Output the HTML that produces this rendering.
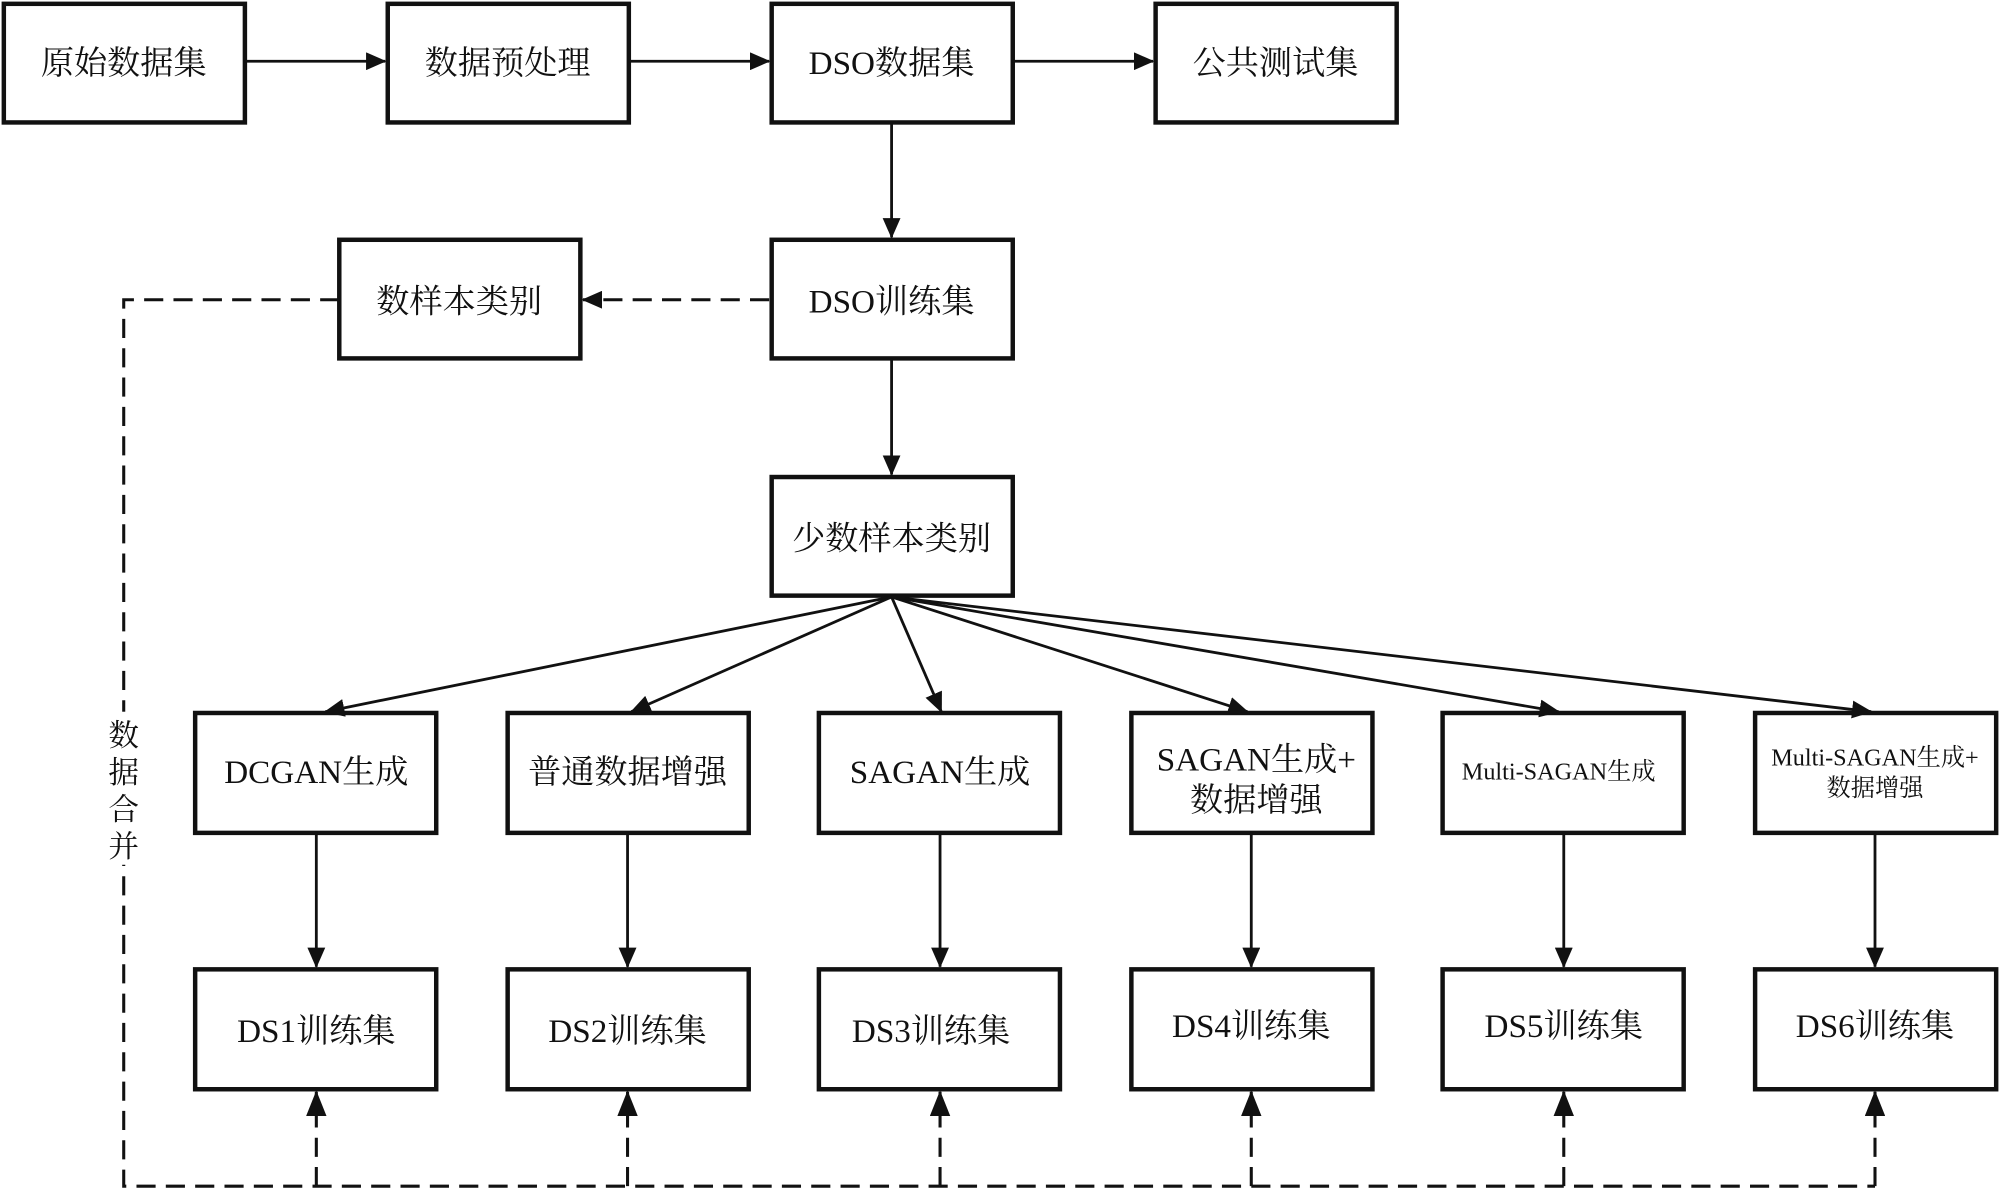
<!DOCTYPE html>
<html><head><meta charset="utf-8"><style>
html,body{margin:0;padding:0;background:#fff;}
svg{display:block;}
text{font-family:"Liberation Serif","Noto Serif CJK SC","Noto Sans CJK SC",serif;fill:#111;}
</style></head><body>
<svg width="2000" height="1190" viewBox="0 0 1568 933" preserveAspectRatio="none" xmlns="http://www.w3.org/2000/svg">
<defs>
<marker id="b" markerWidth="16" markerHeight="14" refX="15" refY="7" orient="auto" markerUnits="userSpaceOnUse" viewBox="0 0 16 14"><path d="M0,0 L16,7 L0,14 z" fill="#111"/></marker>
<marker id="c" markerWidth="20" markerHeight="16" refX="19" refY="8" orient="auto" markerUnits="userSpaceOnUse" viewBox="0 0 20 16"><path d="M0,0 L20,8 L0,16 z" fill="#111"/></marker>
</defs>
<g fill="none" stroke="#111" stroke-width="3.5">
<rect x="3" y="3" width="189" height="93"/>
<rect x="304" y="3" width="189" height="93"/>
<rect x="605" y="3" width="189" height="93"/>
<rect x="906" y="3" width="189" height="93"/>
<rect x="266" y="188" width="189" height="93"/>
<rect x="605" y="188" width="189" height="93"/>
<rect x="605" y="374" width="189" height="93"/>
<rect x="153" y="559" width="189" height="94"/>
<rect x="398" y="559" width="189" height="94"/>
<rect x="642" y="559" width="189" height="94"/>
<rect x="887" y="559" width="189" height="94"/>
<rect x="1131" y="559" width="189" height="94"/>
<rect x="1376" y="559" width="189" height="94"/>
<rect x="153" y="760" width="189" height="94"/>
<rect x="398" y="760" width="189" height="94"/>
<rect x="642" y="760" width="189" height="94"/>
<rect x="887" y="760" width="189" height="94"/>
<rect x="1131" y="760" width="189" height="94"/>
<rect x="1376" y="760" width="189" height="94"/>
</g>
<g stroke="#111" stroke-width="2.2" fill="none" marker-end="url(#b)">
<line x1="192" y1="48" x2="302" y2="48"/>
<line x1="493" y1="48" x2="603" y2="48"/>
<line x1="794" y1="48" x2="904" y2="48"/>
<line x1="699" y1="96" x2="699" y2="186"/>
<line x1="699" y1="281" x2="699" y2="372"/>
<line x1="699" y1="468" x2="255" y2="558"/>
<line x1="699" y1="468" x2="495" y2="558"/>
<line x1="699" y1="468" x2="738" y2="558"/>
<line x1="699" y1="468" x2="978" y2="558"/>
<line x1="699" y1="468" x2="1222" y2="558"/>
<line x1="699" y1="468" x2="1467" y2="558"/>
<line x1="248" y1="653" x2="248" y2="758"/>
<line x1="492" y1="653" x2="492" y2="758"/>
<line x1="737" y1="653" x2="737" y2="758"/>
<line x1="981" y1="653" x2="981" y2="758"/>
<line x1="1226" y1="653" x2="1226" y2="758"/>
<line x1="1470" y1="653" x2="1470" y2="758"/>
</g>
<g stroke="#111" stroke-width="2.4" fill="none" stroke-dasharray="15,8">
<line x1="603" y1="235" x2="457" y2="235" marker-end="url(#b)"/>
<polyline points="266,235 97,235 97,930 1470,930"/>
<g marker-end="url(#c)">
<line x1="248" y1="930" x2="248" y2="856"/>
<line x1="492" y1="930" x2="492" y2="856"/>
<line x1="737" y1="930" x2="737" y2="856"/>
<line x1="981" y1="930" x2="981" y2="856"/>
<line x1="1226" y1="930" x2="1226" y2="856"/>
<line x1="1470" y1="930" x2="1470" y2="856"/>
</g>
</g>
<rect x="82" y="558" width="30" height="120" fill="#fff"/>
<g font-size="26" text-anchor="middle" font-family="Liberation Serif, Noto Serif CJK SC, serif">
<text x="97" y="58">原始数据集</text>
<text x="398" y="58">数据预处理</text>
<text x="699" y="58">DSO数据集</text>
<text x="1000" y="58">公共测试集</text>
<text x="360" y="245">数样本类别</text>
<text x="699" y="245">DSO训练集</text>
<text x="699" y="431">少数样本类别</text>
<text x="248" y="614">DCGAN生成</text>
<text x="492" y="614">普通数据增强</text>
<text x="737" y="614">SAGAN生成</text>
<text x="985" y="604">SAGAN生成+</text>
<text x="985" y="636">数据增强</text>
<text x="1222" y="611" font-size="19">Multi-SAGAN生成</text>
<text x="1470" y="600" font-size="19">Multi-SAGAN生成+</text>
<text x="1470" y="624" font-size="19">数据增强</text>
<text x="248" y="817">DS1训练集</text>
<text x="492" y="817">DS2训练集</text>
<text x="730" y="817">DS3训练集</text>
<text x="981" y="813">DS4训练集</text>
<text x="1226" y="813">DS5训练集</text>
<text x="1470" y="813">DS6训练集</text>
<text x="97" y="585" font-size="24">数</text>
<text x="97" y="614" font-size="24">据</text>
<text x="97" y="643" font-size="24">合</text>
<text x="97" y="672" font-size="24">并</text>
</g>
</svg>
</body></html>
